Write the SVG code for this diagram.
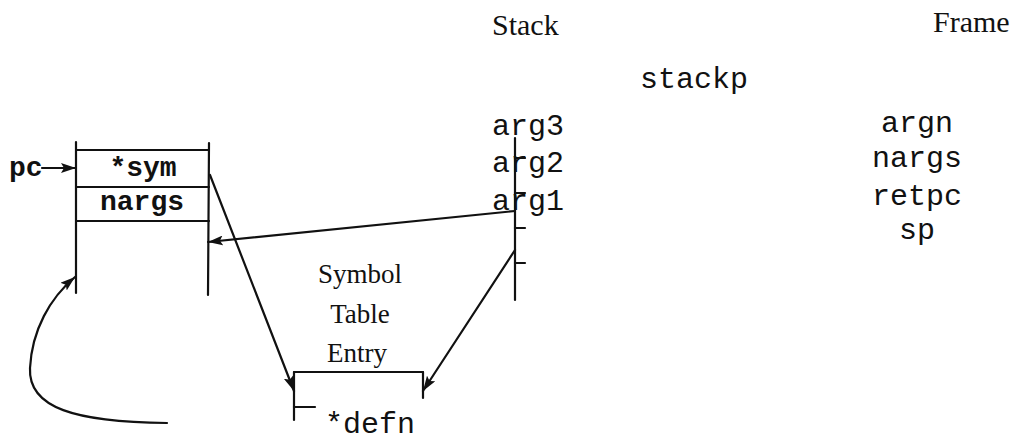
<svg xmlns="http://www.w3.org/2000/svg" width="1016" height="443" viewBox="0 0 1016 443">
<defs>
<style>
.ln{stroke:#111;stroke-width:2.2;fill:none;stroke-linecap:round}
.ser{font-family:"Liberation Serif","Times New Roman",serif;fill:#111}
.mono{font-family:"Liberation Mono","Courier New",monospace;fill:#111;font-size:30px}
.bold{font-family:"Liberation Mono","Courier New",monospace;fill:#111;font-size:28px;font-weight:bold}
</style>
<marker id="ah" markerWidth="15" markerHeight="10" refX="15" refY="5" orient="auto" markerUnits="userSpaceOnUse">
<path d="M0,0 L15,5 L0,10 L3,5 z" fill="#111"/>
</marker>
</defs>
<rect width="1016" height="443" fill="#fff"/>

<g id="titles">
<text class="ser" x="492" y="35" font-size="30">Stack</text>
<text class="ser" x="933" y="32" font-size="30">Frame</text>
</g>

<g id="stackp">
<text class="mono" x="640" y="88">stackp</text>
</g>

<g id="stack">
<line class="ln" x1="515" y1="138" x2="515" y2="300"/>
<line class="ln" x1="515" y1="158" x2="525" y2="158"/>
<line class="ln" x1="515" y1="193" x2="525" y2="193"/>
<line class="ln" x1="515" y1="228" x2="525" y2="228"/>
<line class="ln" x1="515" y1="263" x2="525" y2="263"/>
<text class="mono" x="492" y="135">arg3</text>
<text class="mono" x="492" y="172">arg2</text>
<text class="mono" x="492" y="210">arg1</text>
</g>

<g id="frame">
<text class="mono" x="917" y="132" text-anchor="middle">argn</text>
<text class="mono" x="917" y="167" text-anchor="middle">nargs</text>
<text class="mono" x="917" y="205" text-anchor="middle">retpc</text>
<text class="mono" x="917" y="239" text-anchor="middle">sp</text>
</g>

<g id="code">
<line class="ln" x1="76" y1="142" x2="76" y2="293"/>
<line class="ln" x1="209" y1="143" x2="208" y2="295"/>
<line class="ln" x1="77" y1="150" x2="209" y2="150"/>
<line class="ln" x1="77" y1="187" x2="209" y2="187"/>
<line class="ln" x1="77" y1="221" x2="209" y2="221"/>
<text class="bold" x="143" y="176" text-anchor="middle">*sym</text>
<text class="bold" x="142" y="210" text-anchor="middle">nargs</text>
<text class="bold" x="9" y="176" font-size="25">pc</text>
</g>

<g id="symtab">
<text class="ser" x="360" y="283" font-size="27" text-anchor="middle">Symbol</text>
<text class="ser" x="360" y="323" font-size="27" text-anchor="middle">Table</text>
<text class="ser" x="357" y="362" font-size="27" text-anchor="middle">Entry</text>
<line class="ln" x1="294" y1="372" x2="423" y2="372"/>
<line class="ln" x1="294" y1="372" x2="294" y2="420"/>
<line class="ln" x1="294" y1="407" x2="315" y2="407"/>
<line class="ln" x1="423" y1="372" x2="423" y2="398"/>
<text class="mono" x="325" y="433" font-size="26">*defn</text>
</g>

<g id="connectors">
<line class="ln" x1="42" y1="168" x2="76" y2="168" marker-end="url(#ah)"/>
<line class="ln" x1="515" y1="211" x2="208" y2="242" marker-end="url(#ah)"/>
<line class="ln" x1="515" y1="250" x2="423" y2="391" marker-end="url(#ah)"/>
<line class="ln" x1="210" y1="175" x2="294" y2="391" marker-end="url(#ah)"/>
<path class="ln" d="M167,423 C75,422 28,408 30,368 C32,330 50,298 75,277" marker-end="url(#ah)"/>
</g>
</svg>
